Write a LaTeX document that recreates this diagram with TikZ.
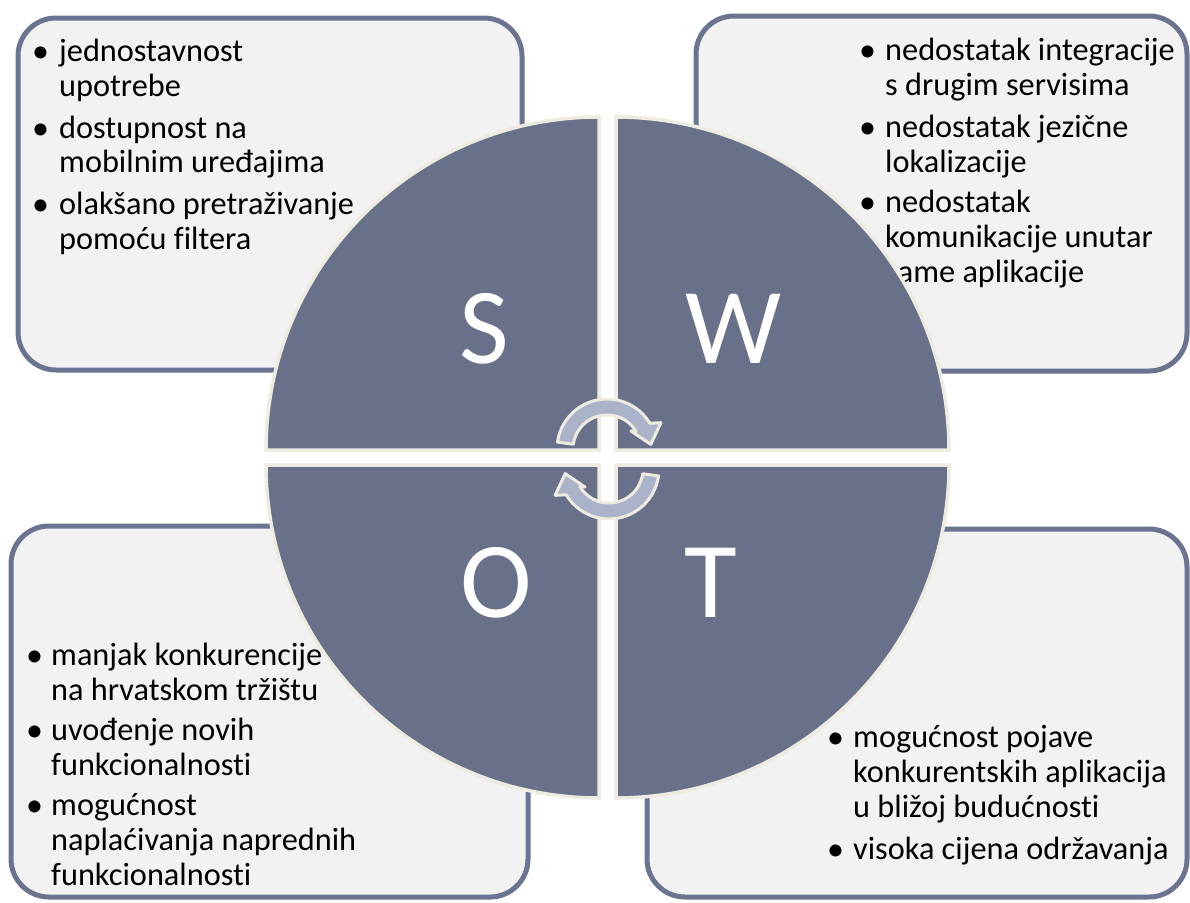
\documentclass[tikz,border=0pt]{standalone}
\usepackage{fontspec}
\setmainfont[Ligatures={NoCommon}]{Carlito}
\definecolor{boxborder}{HTML}{6A7390}
\definecolor{boxfill}{HTML}{F2F2F2}
\definecolor{quadfill}{HTML}{68708A}
\definecolor{cream}{HTML}{EEECE1}
\definecolor{arrowfill}{HTML}{AAB3C9}
\begin{document}
\begin{tikzpicture}[x=1pt,y=-1pt,
  box/.style={draw=boxborder, fill=boxfill, line width=5pt, rounded corners=38pt, rectangle, inner sep=0pt},
  quad/.style={fill=quadfill, draw=cream, line width=3.5pt},
  letter/.style={text=white, font=\fontsize{108}{108}\selectfont, anchor=base, inner sep=0pt},
  txt/.style={font=\fontsize{32.3}{35}\selectfont, anchor=base west, inner sep=0pt, text=black},
  bul/.style={font=\fontsize{34}{35}\selectfont, anchor=base west, inner sep=0pt, text=black},
  arr/.style={fill=arrowfill, draw=cream, line width=3pt, line join=round}]
\useasboundingbox (0,0) rectangle (1190,902);
% boxes
\node[box, minimum width=504pt, minimum height=352pt] (sbox) at (270,194) {};
\node[box, minimum width=491pt, minimum height=355pt] (wbox) at (941.5,193.5) {};
\node[box, minimum width=517pt, minimum height=371pt] (obox) at (269.5,711.5) {};
\node[box, minimum width=540pt, minimum height=368pt] (tbox) at (917,713) {};
% S text
\node[bul] (s1b) at (32,62) {•};
\node[txt] (s1a) at (59,61) {jednostavnost};
\node[txt] (s1c) at (59,96) {upotrebe};
\node[bul] (s2b) at (32,139) {•};
\node[txt] (s2a) at (59,138) {dostupnost na};
\node[txt] (s2c) at (59,172) {mobilnim uređajima};
\node[bul] (s3b) at (32,215) {•};
\node[txt] (s3a) at (59,214) {olakšano pretraživanje};
\node[txt] (s3c) at (59,249) {pomoću filtera};
% W text
\node[bul] (w1b) at (859,61) {•};
\node[txt] (w1a) at (885,60) {nedostatak integracije};
\node[txt] (w1c) at (885,95) {s drugim servisima};
\node[bul] (w2b) at (859,138) {•};
\node[txt] (w2a) at (885,137) {nedostatak jezične};
\node[txt] (w2c) at (885,172) {lokalizacije};
\node[bul] (w3b) at (859,213) {•};
\node[txt] (w3a) at (885,212) {nedostatak};
\node[txt] (w3c) at (885,247) {komunikacije unutar};
\node[txt] (w3d) at (885,282) {same aplikacije};
% O text
\node[bul] (o1b) at (26,666) {•};
\node[txt] (o1a) at (51,665) {manjak konkurencije};
\node[txt] (o1c) at (51,700) {na hrvatskom tržištu};
\node[bul] (o2b) at (26,741) {•};
\node[txt] (o2a) at (51,740) {uvođenje novih};
\node[txt] (o2c) at (51,775) {funkcionalnosti};
\node[bul] (o3b) at (26,816) {•};
\node[txt] (o3a) at (51,815) {mogućnost};
\node[txt] (o3c) at (51,850) {naplaćivanja naprednih};
\node[txt] (o3d) at (51,885) {funkcionalnosti};
% T text
\node[bul] (t1b) at (827,748) {•};
\node[txt] (t1a) at (853,747) {mogućnost pojave};
\node[txt] (t1c) at (853,782) {konkurentskih aplikacija};
\node[txt] (t1d) at (853,817) {u bližoj budućnosti};
\node[bul] (t2b) at (827,860) {•};
\node[txt] (t2a) at (853,859) {visoka cijena održavanja};
% quadrants
\filldraw[quad] (599,450) -- (266,450) arc[start angle=180, end angle=270, radius=333] -- cycle;
\filldraw[quad] (616,450) -- (616,117) arc[start angle=270, end angle=360, radius=333] -- cycle;
\filldraw[quad] (616,465) -- (949,465) arc[start angle=0, end angle=90, radius=333] -- cycle;
\filldraw[quad] (599,465) -- (599,798) arc[start angle=90, end angle=180, radius=333] -- cycle;
% letters
\node[letter] (S) at (484,363) {S};
\node[letter] (W) at (734,363) {W};
\node[letter] (O) at (496,617) {O};
\node[letter] (T) at (711,617) {T};
% arrows
\begin{scope}[shift={(607,449)}]
\filldraw[arr] (-172:50) arc[start angle=-172, end angle=-31, radius=50] -- (-26:60) -- (-6:44) -- (-37:30) -- (-31:34) arc[start angle=-31, end angle=-172, radius=34] -- cycle;
\end{scope}
\begin{scope}[shift={(609,469)}, rotate=180]
\filldraw[arr] (-172:50) arc[start angle=-172, end angle=-31, radius=50] -- (-26:60) -- (-6:44) -- (-37:30) -- (-31:34) arc[start angle=-31, end angle=-172, radius=34] -- cycle;
\end{scope}
\end{tikzpicture}
\end{document}
